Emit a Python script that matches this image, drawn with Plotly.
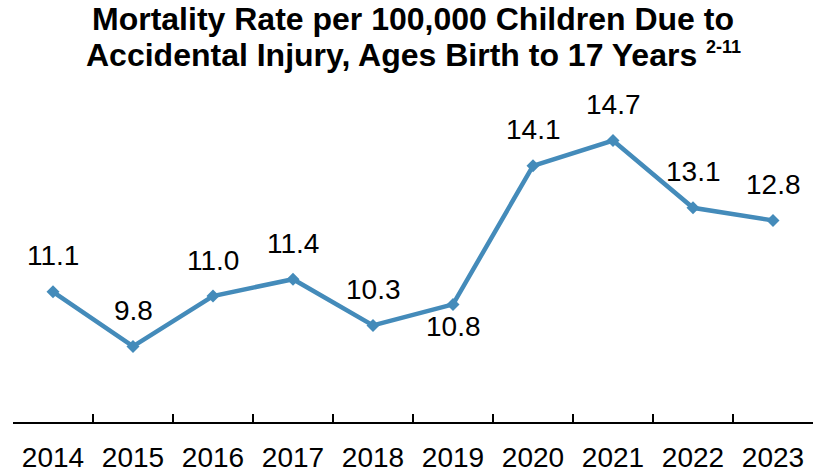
import plotly.graph_objects as go

# Mortality rate per 100,000 children due to accidental injury
years = ["2014", "2015", "2016", "2017", "2018", "2019", "2020", "2021", "2022", "2023"]
rates = [11.1, 9.8, 11.0, 11.4, 10.3, 10.8, 14.1, 14.7, 13.1, 12.8]
# label placement: above the point except where it would collide with the line
label_above = [True, True, True, True, True, False, True, True, True, True]

LINE_COLOR = "#448BBA"
FONT = "Liberation Sans, Arial, sans-serif"
TITLE_LINES = [
    "<b>Mortality Rate per 100,000 Children Due to</b>",
    "<b>Accidental Injury, Ages Birth to 17 Years "
    "<sup><span style='font-size:18px'>2-11</span></sup></b>",
]

fig = go.Figure()
fig.add_trace(go.Scatter(
    x=years, y=rates,
    mode="lines+markers",
    line=dict(color=LINE_COLOR, width=4.5),
    marker=dict(symbol="diamond", size=10, color=LINE_COLOR),
    hoverinfo="skip",
    showlegend=False,
))

# value labels; category axes place annotations by category index
for i, (v, above) in enumerate(zip(rates, label_above)):
    fig.add_annotation(
        x=i, y=v, text=f"{v:.1f}", showarrow=False,
        xref="x", yref="y", yanchor="middle",
        yshift=36 if above else -22,
        font=dict(family=FONT, size=28, color="#000000"),
    )

# chart title, one annotation per line for tighter line spacing
for line, shift in zip(TITLE_LINES, [67, 31]):
    fig.add_annotation(
        x=0.5, y=1, xref="paper", yref="paper",
        xanchor="center", yanchor="middle", yshift=shift,
        text=line, showarrow=False,
        font=dict(family=FONT, size=32, color="#000000"),
    )

fig.update_layout(
    width=823, height=476,
    margin=dict(l=13, r=10, t=86, b=54),
    paper_bgcolor="white", plot_bgcolor="white",
    xaxis=dict(
        type="category",
        tickson="boundaries",
        ticks="inside", ticklen=8, tickwidth=1.5, tickcolor="#000000",
        showline=True, linecolor="#000000", linewidth=1.5,
        showgrid=False, zeroline=False,
        tickfont=dict(family=FONT, size=28, color="#000000"),
        ticklabelstandoff=10,
        automargin=False,
        range=[-0.5, 9.5],
    ),
    yaxis=dict(
        range=[8, 16], visible=False, showgrid=False, zeroline=False,
        automargin=False,
    ),
)

fig.write_html("out.html")
